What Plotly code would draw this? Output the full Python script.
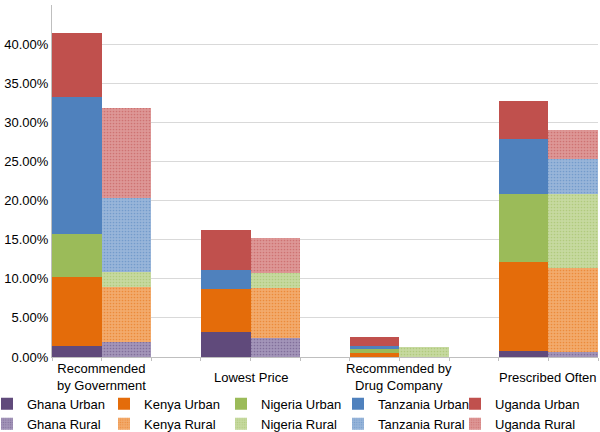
import plotly.graph_objects as go

categories = ["Recommended<br>by Government", "Lowest Price", "Recommended by<br>Drug Company", "Prescribed Often"]
countries = ["Ghana", "Kenya", "Nigeria", "Tanzania", "Uganda"]

# percentages, per category
ghana_urban = [1.45, 3.16, 0.0, 0.77]
kenya_urban = [8.75, 5.59, 0.51, 11.35]
nigeria_urban = [5.58, 0.0, 0.47, 8.74]
tanzania_urban = [17.41, 2.43, 0.47, 7.04]
uganda_urban = [8.19, 5.07, 1.07, 4.86]

ghana_rural = [1.92, 2.47, 0.0, 0.64]
kenya_rural = [7.04, 6.40, 0.0, 10.75]
nigeria_rural = [1.88, 1.84, 1.33, 9.47]
tanzania_rural = [9.51, 0.0, 0.0, 4.40]
uganda_rural = [11.43, 4.48, 0.0, 3.79]

base_colors = ["#604A7B", "#E46C0A", "#9BBB59", "#4F81BD", "#C0504D"]
light_colors = ["#A395B9", "#F2AA6C", "#C6D9A0", "#98B5D9", "#DD9796"]

urban = [ghana_urban, kenya_urban, nigeria_urban, tanzania_urban, uganda_urban]
rural = [ghana_rural, kenya_rural, nigeria_rural, tanzania_rural, uganda_rural]

bar_w = 1 / 3
idx = list(range(len(categories)))
x_urban = [i - bar_w / 2 for i in idx]
x_rural = [i + bar_w / 2 for i in idx]

legend_keys = ["legend"] + [f"legend{j + 1}" for j in range(1, len(countries))]

fig = go.Figure()
for j, (name, vals, col) in enumerate(zip(countries, urban, base_colors)):
    fig.add_trace(go.Bar(x=x_urban, y=vals, width=bar_w, name=f"{name} Urban",
                         legend=legend_keys[j], legendrank=1,
                         marker=dict(color=col, line=dict(width=0))))
for j, (name, vals, col, lc) in enumerate(zip(countries, rural, base_colors, light_colors)):
    fig.add_trace(go.Bar(x=x_rural, y=vals, width=bar_w, name=f"{name} Rural",
                         legend=legend_keys[j], legendrank=2,
                         marker=dict(color=lc, line=dict(width=0),
                                     pattern=dict(shape=".", fgcolor=col, bgcolor=lc,
                                                  size=3, solidity=0.25, fillmode="overlay"))))

font_family = "Liberation Sans, Arial, sans-serif"
for i, c in enumerate(categories):
    fig.add_annotation(x=i, y=-0.058, xref="x", yref="paper", text=c, showarrow=False,
                       yanchor="middle", xanchor="center",
                       font=dict(family=font_family, size=13, color="#000000"))

plot_left, plot_w = 52, 546
legend_layout = {}
for j, key in enumerate(legend_keys):
    page_x = -13 + 117 * j
    legend_layout[key] = dict(
        orientation="v", x=(page_x - plot_left) / plot_w, y=-0.0903,
        xanchor="left", yanchor="top", traceorder="normal",
        font=dict(family=font_family, size=13, color="#000000"),
        itemwidth=30, tracegroupgap=0, bgcolor="rgba(0,0,0,0)")

fig.update_layout(
    barmode="stack",
    width=600, height=432,
    margin=dict(l=52, r=2, t=5, b=75, autoexpand=False),
    paper_bgcolor="white", plot_bgcolor="white",
    font=dict(family=font_family, size=13, color="#000000"),
    showlegend=True,
    xaxis=dict(range=[-bar_w, len(categories) - 1 + bar_w], showticklabels=False,
               showgrid=False, zeroline=False, showline=True, linecolor="#BFBFBF",
               ticks="outside", ticklen=3, tickcolor="#BFBFBF",
               tick0=-bar_w, dtick=bar_w, tickmode="linear", automargin=False),
    yaxis=dict(range=[0, 45], dtick=5, tickformat=".2f", ticksuffix="%",
               showgrid=True, gridcolor="#D9D9D9", gridwidth=1, zeroline=False,
               showline=True, linecolor="#BFBFBF", ticks="", automargin=False,
               tickfont=dict(family=font_family, size=13, color="#000000")),
    bargap=0,
    **legend_layout,
)

fig.write_html("out.html", config={"displayModeBar": False},
               post_script="document.body.style.margin='0';")
